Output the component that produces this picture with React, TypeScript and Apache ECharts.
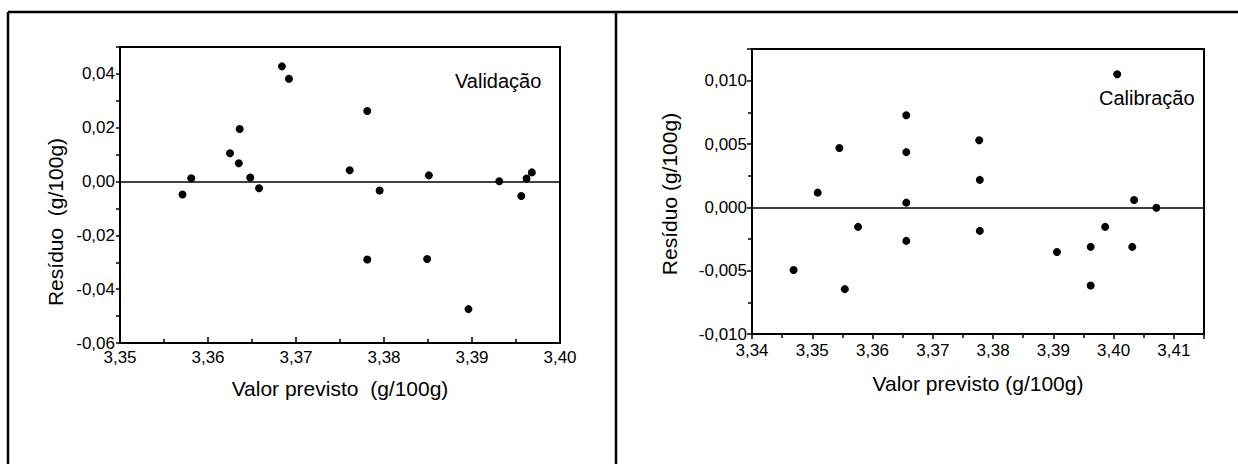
import React, { useEffect, useRef } from "react";
import * as echarts from "echarts";

// Validação (left panel)
const valX = [3.3571, 3.3581, 3.3625, 3.3636, 3.3635, 3.3648, 3.3658, 3.3684, 3.3692, 3.3761, 3.3781, 3.3795, 3.3781, 3.3851, 3.3849, 3.3896, 3.3931, 3.3956, 3.3962, 3.3968];
const valY = [-0.0048, 0.0012, 0.0105, 0.0195, 0.0068, 0.0015, -0.0025, 0.0428, 0.0382, 0.0042, 0.0262, -0.0033, -0.0290, 0.0023, -0.0288, -0.0474, 0.0001, -0.0054, 0.0011, 0.0034];

// Calibração (right panel)
const calX = [3.3469, 3.3509, 3.3545, 3.3554, 3.3576, 3.3656, 3.3656, 3.3656, 3.3656, 3.3777, 3.3778, 3.3778, 3.3906, 3.3962, 3.3962, 3.3986, 3.4006, 3.4034, 3.4031, 3.4071];
const calY = [-0.00495, 0.00116, 0.00468, -0.00646, -0.00154, 0.00727, 0.00436, 0.00037, -0.00265, 0.00529, 0.00217, -0.00186, -0.00352, -0.00312, -0.00617, -0.00154, 0.0105, 0.00058, -0.00312, -0.00003];

const leftXTitle = "Valor previsto  (g/100g)";
const leftYTitle = "Resíduo  (g/100g)";
const rightXTitle = "Valor previsto (g/100g)";
const rightYTitle = "Resíduo (g/100g)";
const leftTag = "Validação";
const rightTag = "Calibração";

const FONT = "'Liberation Sans', Arial, sans-serif";

function fmt(interval: number, digits: number) {
  return (v: number) => {
    const r = v / interval;
    if (Math.abs(r - Math.round(r)) > 1e-6) return "";
    const val = Math.abs(v) < 1e-12 ? 0 : v;
    return val.toFixed(digits).replace(".", ",");
  };
}

function zip(xs: number[], ys: number[]) {
  return xs.map((x, i) => [x, ys[i]]);
}

export default function App() {
  const ref = useRef<HTMLDivElement>(null);
  useEffect(() => {
    if (!ref.current) return;
    const chart = echarts.init(ref.current, null, { renderer: "svg" });
    const axisLine = { show: true, onZero: false, lineStyle: { color: "#000", width: 2 } };
    const label = { color: "#000", fontSize: 17, fontFamily: FONT };
    const nameStyle = { color: "#000", fontSize: 21, fontFamily: FONT };
    const tickStyle = { color: "#000", width: 1.5 };
    chart.setOption({
      animation: false,
      backgroundColor: "#fff",
      grid: [
        { left: 120, top: 47, width: 440, height: 296, show: true, borderColor: "#000", borderWidth: 2, backgroundColor: "transparent" },
        { left: 752, top: 49, width: 452, height: 285, show: true, borderColor: "#000", borderWidth: 2, backgroundColor: "transparent" },
      ],
      xAxis: [
        {
          type: "value", gridIndex: 0, min: 3.35, max: 3.4, interval: 0.01,
          axisLine, splitLine: { show: false },
          axisTick: { show: true, inside: true, length: 6, lineStyle: tickStyle },
          minorTick: { show: true, splitNumber: 2, length: 4, lineStyle: tickStyle },
          axisLabel: { ...label, margin: 6, formatter: fmt(0.01, 2) },
          name: leftXTitle, nameLocation: "middle", nameGap: 35, nameTextStyle: nameStyle,
        },
        {
          type: "value", gridIndex: 1, min: 3.34, max: 3.415, interval: 0.01,
          axisLine, splitLine: { show: false },
          axisTick: { show: true, length: 5, lineStyle: tickStyle },
          minorTick: { show: true, splitNumber: 2, length: 4, lineStyle: tickStyle },
          axisLabel: { ...label, margin: 8, formatter: fmt(0.01, 2) },
          name: rightXTitle, nameLocation: "middle", nameGap: 39, nameTextStyle: nameStyle,
        },
      ],
      yAxis: [
        {
          type: "value", gridIndex: 0, min: -0.06, max: 0.05, interval: 0.02,
          axisLine, splitLine: { show: false },
          axisTick: { show: true, length: 4, lineStyle: tickStyle },
          minorTick: { show: true, splitNumber: 2, length: 4, lineStyle: tickStyle },
          axisLabel: { ...label, margin: 5, formatter: fmt(0.02, 2) },
        },
        {
          type: "value", gridIndex: 1, min: -0.01, max: 0.0125, interval: 0.005,
          axisLine, splitLine: { show: false },
          axisTick: { show: true, length: 5, lineStyle: tickStyle },
          minorTick: { show: true, splitNumber: 2, length: 4, lineStyle: tickStyle },
          axisLabel: { ...label, margin: 5, formatter: fmt(0.005, 3) },
        },
      ],
      series: [
        {
          type: "scatter", xAxisIndex: 0, yAxisIndex: 0, data: zip(valX, valY),
          symbolSize: 8, itemStyle: { color: "#000", opacity: 1 },
          markLine: {
            silent: true, symbol: "none", label: { show: false },
            lineStyle: { color: "#000", width: 1.5, type: "solid" },
            data: [{ yAxis: 0 }],
          },
        },
        {
          type: "scatter", xAxisIndex: 1, yAxisIndex: 1, data: zip(calX, calY),
          symbolSize: 8, itemStyle: { color: "#000", opacity: 1 },
          markLine: {
            silent: true, symbol: "none", label: { show: false },
            lineStyle: { color: "#000", width: 1.5, type: "solid" },
            data: [{ yAxis: 0 }],
          },
        },
      ],
      graphic: [
        { type: "line", shape: { x1: 8, y1: 12, x2: 1238, y2: 12 }, style: { stroke: "#000", lineWidth: 2.5 } },
        { type: "line", shape: { x1: 8, y1: 12, x2: 8, y2: 464 }, style: { stroke: "#000", lineWidth: 2.5 } },
        { type: "line", shape: { x1: 616, y1: 12, x2: 616, y2: 464 }, style: { stroke: "#000", lineWidth: 2.5 } },
        { type: "text", left: 455, top: 71, style: { text: leftTag, fill: "#000", font: `20px ${FONT}` } },
        { type: "text", left: 1099, top: 88, style: { text: rightTag, fill: "#000", font: `20px ${FONT}` } },
        {
          type: "text", x: 55, y: 222, rotation: Math.PI / 2,
          style: { text: leftYTitle, fill: "#000", font: `21px ${FONT}`, align: "center", verticalAlign: "middle" },
        },
        {
          type: "text", x: 669, y: 194, rotation: Math.PI / 2,
          style: { text: rightYTitle, fill: "#000", font: `21px ${FONT}`, align: "center", verticalAlign: "middle" },
        },
      ],
    });
    return () => chart.dispose();
  }, []);
  return <div ref={ref} style={{ position: "absolute", left: 0, top: 0, width: 1238, height: 464 }} />;
}
